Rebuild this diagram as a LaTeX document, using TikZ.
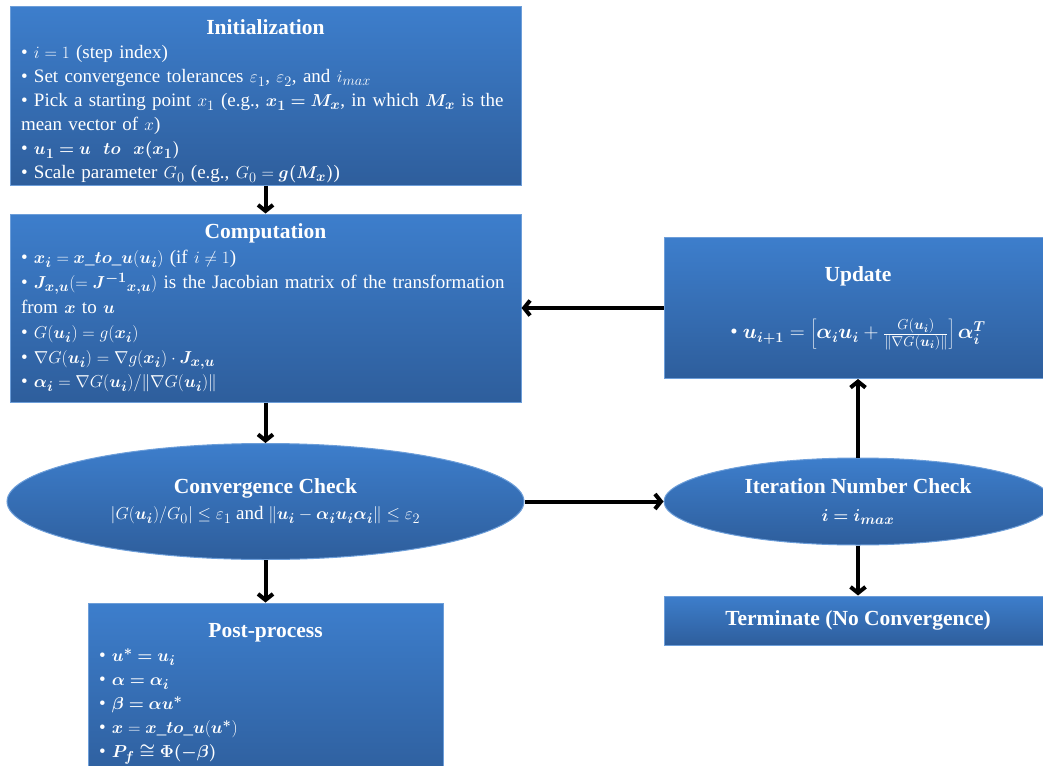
\documentclass[tikz,border=0pt]{standalone}
\usepackage{fontspec}
\setmainfont{Liberation Serif}
\usepackage{bm}
\usetikzlibrary{shapes.geometric,arrows.meta}
\definecolor{boxtop}{RGB}{61,126,204}
\definecolor{boxbot}{RGB}{46,94,156}
\begin{document}
\begin{tikzpicture}
[
 x=1pt, y=-1pt,
 every node/.style={text=white, font=\fontsize{19}{24}\selectfont},
 BOX/.style={rectangle, draw=boxtop!75!white, line width=1pt, top color=boxtop, bottom color=boxbot, inner sep=0pt},
 OVAL/.style={ellipse, draw=boxtop!75!white, line width=1pt, top color=boxtop, bottom color=boxbot, inner sep=0pt, align=center},
 ARROW/.style={line width=4pt, -{Straight Barb[length=6pt,width=15pt]}},
 ]
%
\useasboundingbox (0,0) rectangle (1043,765);
\clip (0,0) rectangle (1043,765);
%
\node [BOX, minimum width=511pt, minimum height=178pt, text width=489pt, align=left] (INIT) at (265.5, 96)
 {{\centering\fontsize{21.5}{28}\selectfont\bfseries\rule{0pt}{26pt}Initialization\par}
  \textbullet\ $i=1$ (step index)\\
  \textbullet\ Set convergence tolerances $\varepsilon_1$, $\varepsilon_2$, and $i_{max}$\\
  \textbullet\ Pick a starting point $x_1$ (e.g., $\bm{x_1=M_x}$, in which $\bm{M_x}$ is the\\
  mean vector of $x$)\\
  \textbullet\ $\bm{u_1=u\ \ to\ \ x(x_1)}$\\
  \textbullet\ Scale parameter $G_0$ (e.g., $G_0=\bm{g(M_x)}$)};
%
\node [BOX, minimum width=511pt, minimum height=188pt, text width=489pt, align=left] (COMP) at (265.5, 308)
 {\baselineskip=25pt
  {\centering\fontsize{21.5}{26}\selectfont\bfseries Computation\par}
  \textbullet\ $\bm{x_i}=\bm{x}$\_$\bm{to}$\_$\bm{u}(\bm{u_i})$ (if $i\neq1$)\\
  \textbullet\ $\bm{J_{x,u}}(={\bm{J^{-1}}}_{\bm{x,u}})$ is the Jacobian matrix of the transformation\\
  from $\bm{x}$ to $\bm{u}$\\
  \textbullet\ $G(\bm{u_i})=g(\bm{x_i})$\\
  \textbullet\ $\nabla G(\bm{u_i})=\nabla g(\bm{x_i})\cdot\bm{J_{x,u}}$\\
  \textbullet\ $\bm{\alpha_i}=\nabla G(\bm{u_i})/\|\nabla G(\bm{u_i})\|$};
%
\node [OVAL, minimum width=517pt, minimum height=116pt] (CONV) at (265.5, 501.5)
 {\rule{0pt}{14pt}{\fontsize{21.5}{26}\selectfont\bfseries Convergence Check}\\[2pt]
  $|G(\bm{u_i})/G_0|\le\varepsilon_1$ and $\|\bm{u_i}-\bm{\alpha_i u_i\alpha_i}\|\le\varepsilon_2$};
%
\node [BOX, minimum width=355pt, minimum height=182pt, text width=333pt, align=left] (POST) at (265.5, 694)
 {{\centering\fontsize{21.5}{26}\selectfont\bfseries Post-process\par}
  \textbullet\ $\bm{u^*=u_i}$\\
  \textbullet\ $\bm{\alpha=\alpha_i}$\\
  \textbullet\ $\bm{\beta=\alpha u^*}$\\
  \textbullet\ $\bm{x}=\bm{x}$\_$\bm{to}$\_$\bm{u}(\bm{u^*})$\\
  \textbullet\ $\bm{P_f\cong\Phi(-\beta)}$};
%
\node [BOX, minimum width=388pt, minimum height=141pt, align=center] (UPD) at (858, 308)
 {{\fontsize{21.5}{26}\selectfont\bfseries Update}\\[32pt]
  {\fontsize{21}{26}\selectfont\textbullet\ $\bm{u_{i+1}}=\left[\bm{\alpha_i u_i}+\frac{G(\bm{u_i})}{\|\nabla G(\bm{u_i})\|}\right]\bm{\alpha_i^T}$}};
%
\node [OVAL, minimum width=388pt, minimum height=87pt] (ITER) at (858, 501.5)
 {{\fontsize{21.5}{26}\selectfont\bfseries Iteration Number Check}\\[4pt]
  $\bm{i=i_{max}}$};
%
\node [BOX, minimum width=388pt, minimum height=49pt] (TERM) at (858, 620.5)
 {\fontsize{21.5}{26}\selectfont\bfseries Terminate (No Convergence)};
%
\draw [ARROW]  (INIT.south) -- (COMP.north) ;
\draw [ARROW]  (COMP.south) -- (CONV.north) ;
\draw [ARROW]  (CONV.south) -- (POST.north) ;
\draw [ARROW]  (CONV.east)  -- (ITER.west) ;
\draw [ARROW]  (ITER.north) -- (UPD.south) ;
\draw [ARROW]  (ITER.south) -- (TERM.north) ;
\draw [ARROW]  (UPD.west)   -- (COMP.east) ;
%
\end{tikzpicture}
\end{document}
